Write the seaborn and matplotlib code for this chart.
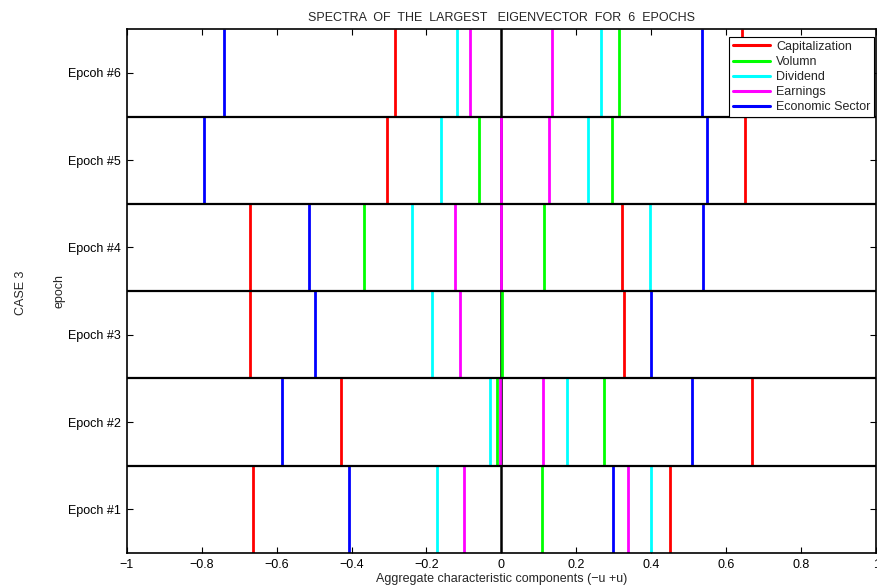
import numpy as np
import pandas as pd
import matplotlib
matplotlib.use("Agg")
import matplotlib.pyplot as plt
import seaborn as sns

# ---- data ----
epochs = ["Epoch #1", "Epoch #2", "Epoch #3", "Epoch #4", "Epoch #5", "Epcoh #6"]
series = ["Capitalization", "Volumn", "Dividend", "Earnings", "Economic Sector"]
colors = ["#ff0000", "#00ff00", "#00ffff", "#ff00ff", "#0000ff"]

capitalization = [[-0.663, 0.450], [-0.427, 0.670], [-0.672, 0.327], [-0.672, 0.322], [-0.305, 0.651], [-0.283, 0.642]]
volumn         = [[0.109],         [-0.013, 0.274], [0.001],         [-0.367, 0.114], [-0.060, 0.296], [0.314]]
dividend       = [[-0.171, 0.400], [-0.030, 0.175], [-0.185],        [-0.238, 0.397], [-0.161, 0.231], [-0.118, 0.265]]
earnings       = [[-0.099, 0.339], [-0.004, 0.111], [-0.111],        [-0.123, -0.001], [-0.001, 0.127], [-0.083, 0.136]]
econ_sector    = [[-0.406, 0.298], [-0.585, 0.508], [-0.498, 0.400], [-0.513, 0.537], [-0.794, 0.549], [-0.741, 0.536]]

values = [capitalization, volumn, dividend, earnings, econ_sector]

xticks = [-1, -0.8, -0.6, -0.4, -0.2, 0, 0.2, 0.4, 0.6, 0.8, 1]
xticklabels = ["\u22121", "\u22120.8", "\u22120.6", "\u22120.4", "\u22120.2", "0", "0.2", "0.4", "0.6", "0.8", "1"]

rows = []
for s, vals in zip(series, values):
    for i, ep in enumerate(epochs):
        for v in vals[i]:
            rows.append({"series": s, "epoch": ep, "pos": i + 1, "value": v})
df = pd.DataFrame(rows)

# ---- style ----
sns.set_theme(style="white")
plt.rcParams["font.family"] = ["Liberation Sans", "DejaVu Sans"]
plt.rcParams["font.size"] = 9
plt.rcParams["axes.linewidth"] = 1.2
plt.rcParams["axes.edgecolor"] = "black"

fig = plt.figure(figsize=(8.77, 5.85), dpi=100)
ax = fig.add_axes([0.1445, 0.0547, 0.8545, 0.8953])

# central reference line
ax.axvline(0, color="black", lw=1.8, zorder=1)

# colored spectra segments
for s, c in zip(series, colors):
    sub = df[df["series"] == s]
    ax.vlines(sub["value"], sub["pos"] - 0.5, sub["pos"] + 0.5, color=c, lw=2.0, zorder=2)

# legend handles
for s, c in zip(series, colors):
    ax.plot([], [], color=c, lw=2.2, label=s)

# row separators
for b in np.arange(1.5, 6.5, 1.0):
    ax.axhline(b, color="black", lw=1.6, zorder=3)

ax.set_xlim(-1, 1)
ax.set_ylim(0.5, 6.5)
ax.set_xticks(xticks)
ax.set_xticklabels(xticklabels)
ax.set_yticks(range(1, 7))
ax.set_yticklabels(epochs)
ax.tick_params(axis="both", which="both", direction="in", length=4, width=0.8,
               top=True, right=True, bottom=True, left=True, labelsize=9, colors="black", pad=4)
for lab in ax.get_xticklabels() + ax.get_yticklabels():
    lab.set_color("black")

ax.set_xlabel("Aggregate characteristic components (\u2212u +u)", fontsize=9, labelpad=2)
ax.set_ylabel("epoch", fontsize=9, labelpad=2)
ax.set_title("SPECTRA  OF  THE  LARGEST   EIGENVECTOR  FOR  6  EPOCHS", fontsize=9, pad=6)
fig.text(0.024, 0.5, "CASE 3", rotation=90, va="center", ha="center", fontsize=9)

leg = ax.legend(loc="upper right", bbox_to_anchor=(0.9973, 0.985), bbox_transform=ax.transAxes,
                fontsize=9, frameon=True, fancybox=False,
                edgecolor="black", framealpha=1, borderpad=0.3, labelspacing=0.25,
                handlelength=3.0, handletextpad=0.45, borderaxespad=0.0)
leg.get_frame().set_linewidth(0.8)
leg.set_zorder(5)

fig.savefig("out.png", dpi=100)
